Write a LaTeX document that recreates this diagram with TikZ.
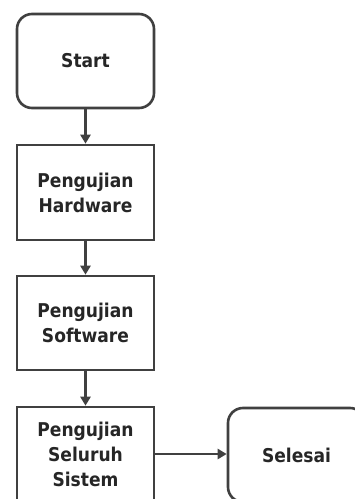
\documentclass[tikz,border=0pt]{standalone}
\usepackage{fontspec}
\setmainfont{DejaVu Sans Condensed}
\usetikzlibrary{arrows.meta}
\begin{document}
\begin{tikzpicture}[x=1pt,y=-1pt,
    box/.style={draw=black!75, line width=2.6pt, fill=white, minimum width=137pt, text=black!85, align=center, font=\fontsize{19}{25}\selectfont\bfseries},
    termbox/.style={box, rounded corners=15pt},
    arr/.style={draw=black!75, line width=2.4pt, -{Triangle[width=10pt,length=9pt]}}]

    \useasboundingbox (0,0) rectangle (355,499);
    \clip (0,0) rectangle (355,499);

    \node[termbox, minimum height=94pt] (start) at (85.5,61) {Start};
    \node[box, minimum height=95pt] (hw) at (85.5,192.5) {Pengujian\\Hardware};
    \node[box, minimum height=94pt] (sw) at (85.5,323) {Pengujian\\Software};
    \node[box, minimum height=94pt] (all) at (85.5,454) {Pengujian\\Seluruh\\Sistem};
    \node[termbox, minimum height=94pt] (end) at (296.5,455) {Selesai};

    \draw[arr] (start) -- (hw);
    \draw[arr] (hw) -- (sw);
    \draw[arr] (sw) -- (all);
    \draw[arr] (all) -- (all -| end.west);
    \end{tikzpicture}
\end{document}
